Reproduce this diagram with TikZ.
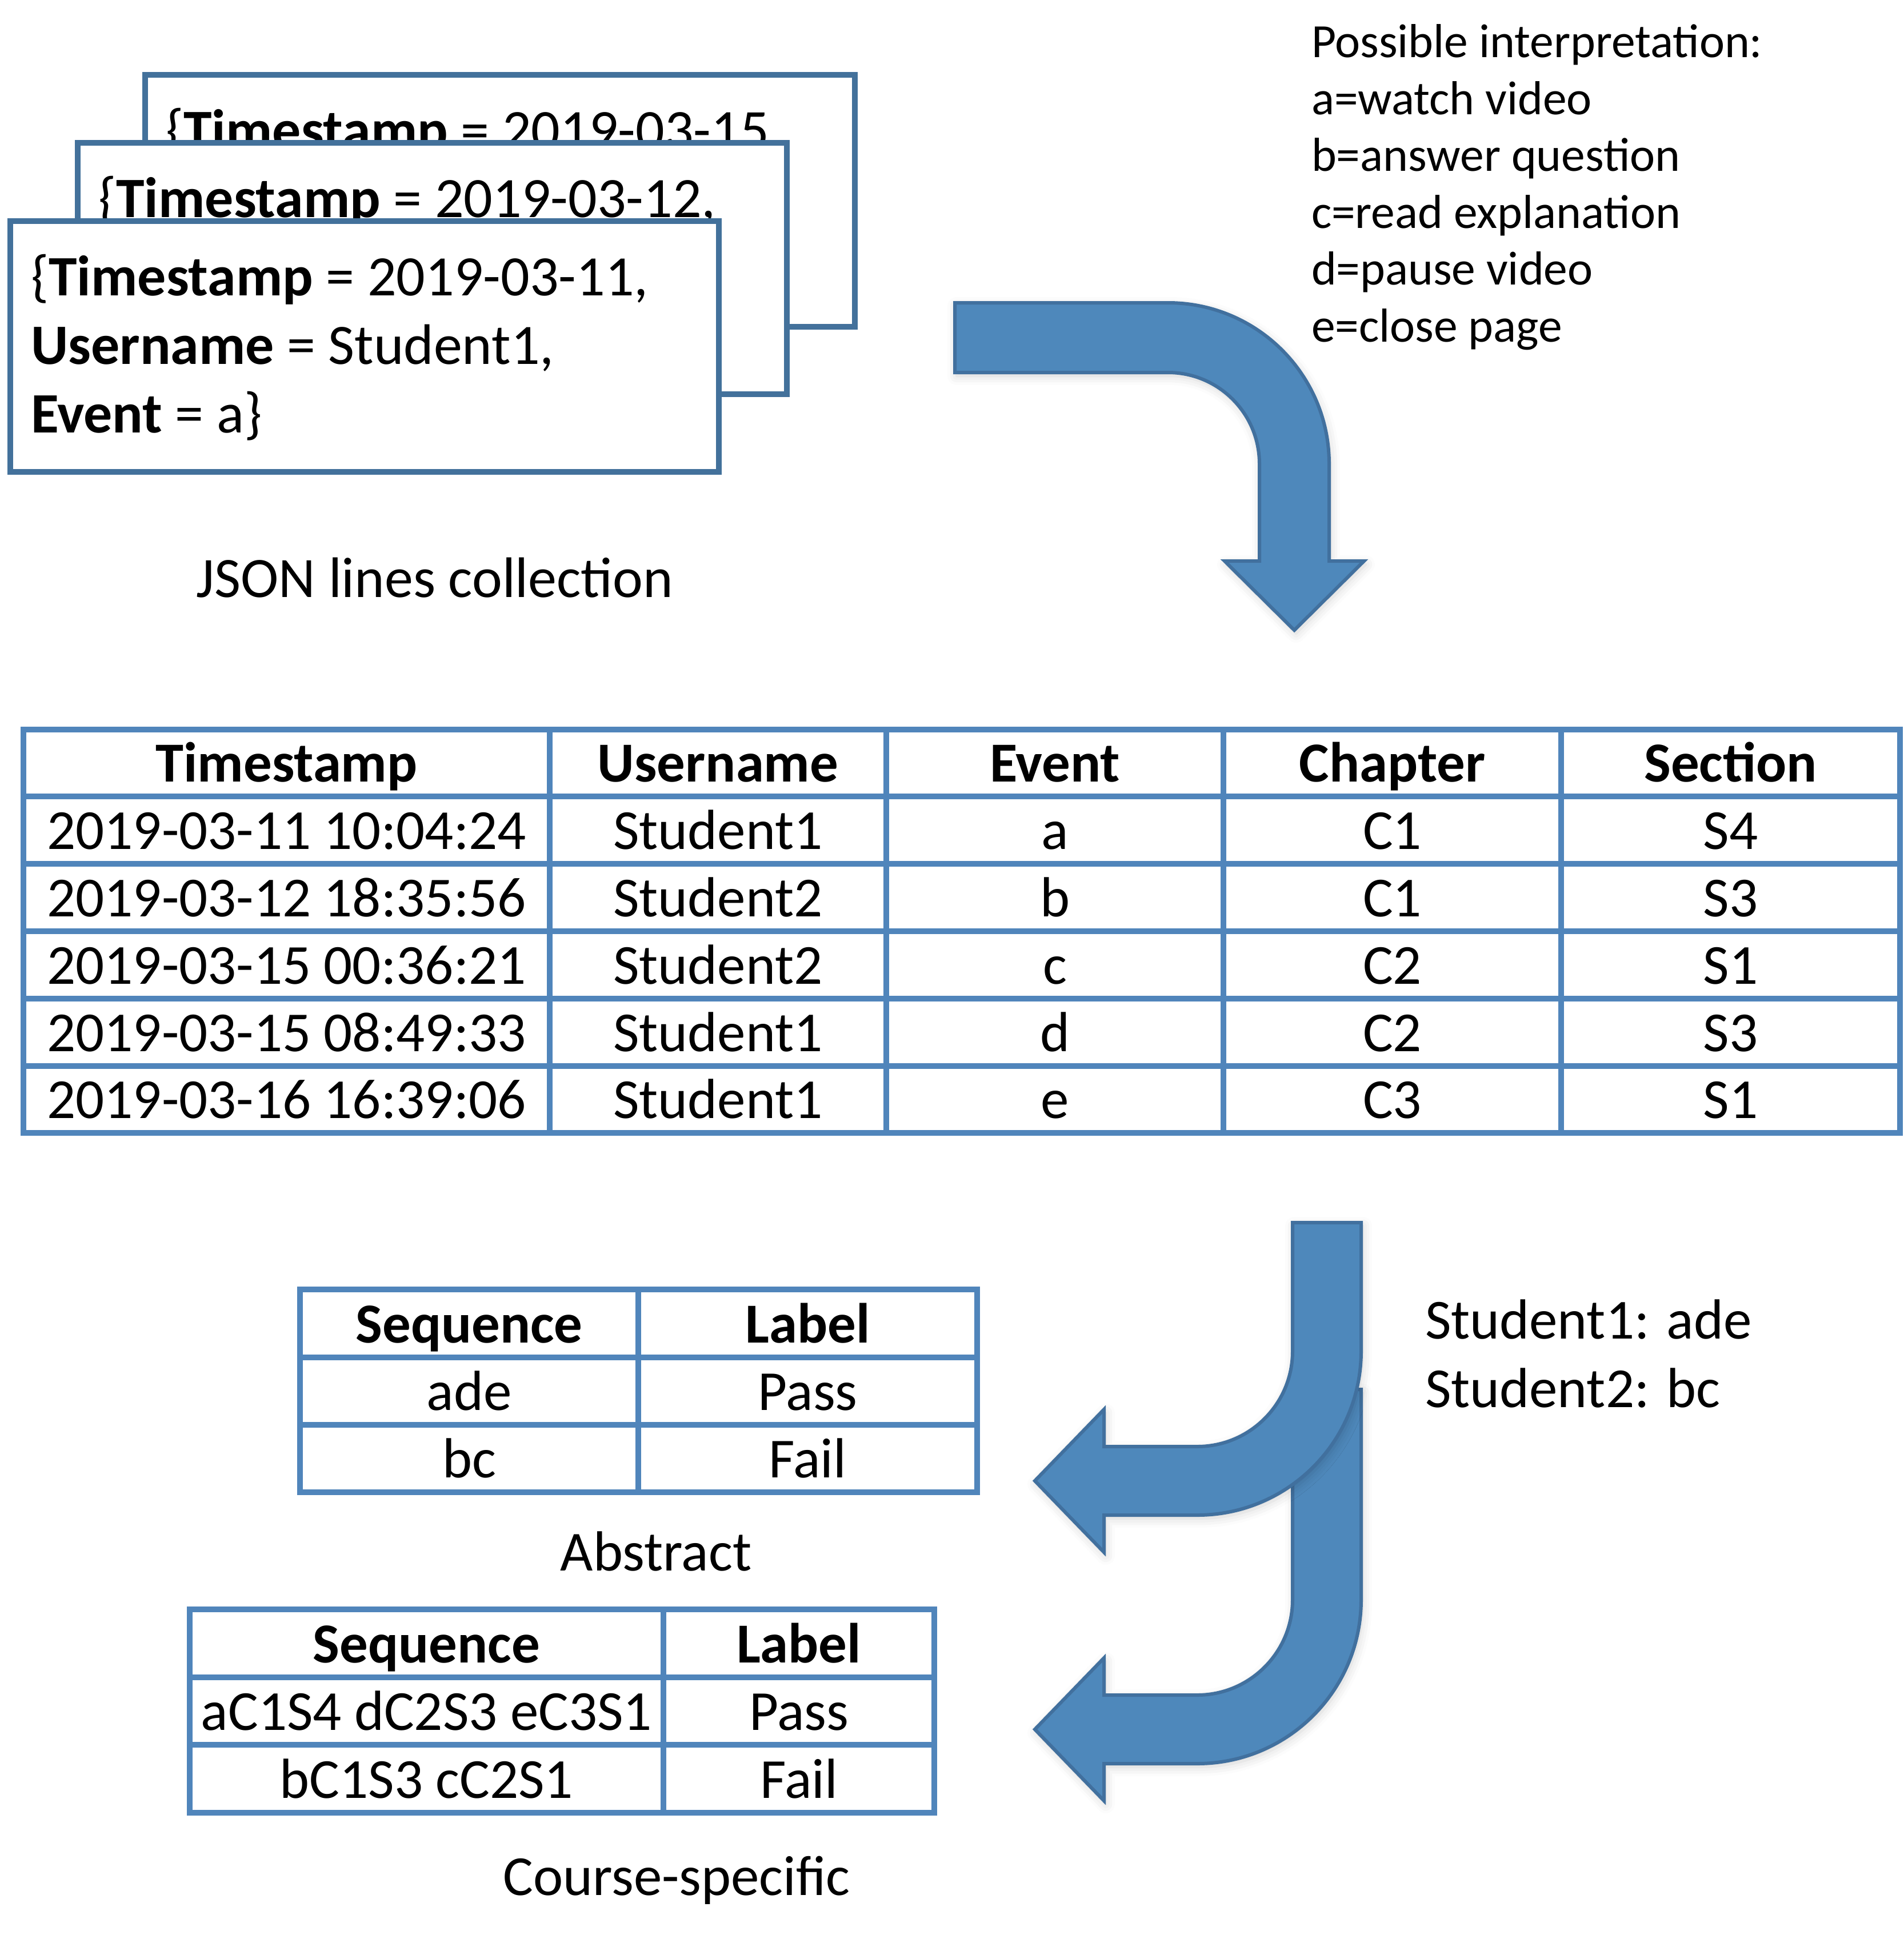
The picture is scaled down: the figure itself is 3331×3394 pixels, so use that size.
\documentclass[tikz,border=0pt]{standalone}
\usepackage{fontspec}
\setmainfont{Carlito}
\usetikzlibrary{shadows.blur}
\definecolor{boxblue}{RGB}{67,113,155}
\definecolor{tblue}{RGB}{80,133,187}
\definecolor{afill}{RGB}{78,136,187}
\definecolor{aline}{RGB}{65,112,158}
\newcommand\fbig{\fontsize{99}{120}\selectfont}
\newcommand\fjson{\fontsize{100}{120}\selectfont}
\newcommand\fsml{\fontsize{83.5}{100}\selectfont}
\begin{document}
\begin{tikzpicture}[x=1pt,y=-1pt,
  txt/.style={inner sep=0pt, outer sep=0pt, font=\fbig, anchor=base},
  txtl/.style={txt, anchor=base west},
  jtxt/.style={txtl, font=\fjson},
  small/.style={inner sep=0pt, outer sep=0pt, font=\fsml, anchor=base west},
  jbox/.style={draw=boxblue, line width=10pt, fill=white},
  tline/.style={draw=tblue, line width=10pt},
  bigarrow/.style={fill=afill, draw=aline, line width=6pt, line join=miter,
    blur shadow={shadow xshift=3pt, shadow yshift=-6pt, shadow blur radius=16pt, shadow opacity=18}}
]
\useasboundingbox (0,0) rectangle (3331,3394);

% ---------- JSON boxes ----------
\draw[jbox] (254,131) rectangle (1496,572);
\node[jtxt] (j3) at (290,261) {\{\textbf{Timestamp} = 2019-03-15,};
\draw[jbox] (136,250) rectangle (1377,690);
\node[jtxt] (j2) at (172,380) {\{\textbf{Timestamp} = 2019-03-12,};
\draw[jbox] (18,387) rectangle (1258,826);
\node[jtxt] (j1a) at (54,517) {\{\textbf{Timestamp} = 2019-03-11,};
\node[jtxt] (j1b) at (54,637) {\textbf{Username} = Student1,};
\node[jtxt] (j1c) at (54,757) {\textbf{Event} = a\}};
\node[txt, font=\fjson] (cap1) at (761,1045) {JSON lines collection};

% ---------- interpretation ----------
\node[small] (p0) at (2295,100) {Possible interpretation:};
\node[small] (p1) at (2295,200) {a=watch video};
\node[small] (p2) at (2295,299) {b=answer question};
\node[small] (p3) at (2295,399) {c=read explanation};
\node[small] (p4) at (2295,498) {d=pause video};
\node[small] (p5) at (2295,598) {e=close page};

% ---------- top bent arrow ----------
\path[bigarrow] (1671,530) -- (2044,530) arc[start angle=-90, end angle=0, radius=282]
  -- (2326,982) -- (2387,982) -- (2265,1103) -- (2143,982) -- (2204,982) -- (2204,812)
  arc[start angle=0, end angle=-90, radius=160] -- (1671,652) -- cycle;

% ---------- big table ----------
\draw[tline] (41,1276.5) rectangle (3325,1983.3);
\foreach \yy in {1394.3,1512.1,1629.9,1747.7,1865.5}
  \draw[tline] (41,\yy) -- (3325,\yy);
\foreach \xx in {962,1551,2141,2732}
  \draw[tline] (\xx,1276.5) -- (\xx,1983.3);

\node[txt] (h1) at (501.5,1368) {\textbf{Timestamp}};
\node[txt] (h2) at (1256.5,1368) {\textbf{Username}};
\node[txt] (h3) at (1846,1368) {\textbf{Event}};
\node[txt] (h4) at (2436.5,1368) {\textbf{Chapter}};
\node[txt] (h5) at (3028.5,1368) {\textbf{Section}};

\node[txt] (r1c1) at (501.5,1486) {2019-03-11 10:04:24};
\node[txt] (r1c2) at (1256.5,1486) {Student1};
\node[txt] (r1c3) at (1846,1486) {a};
\node[txt] (r1c4) at (2436.5,1486) {C1};
\node[txt] (r1c5) at (3028.5,1486) {S4};

\node[txt] (r2c1) at (501.5,1604) {2019-03-12 18:35:56};
\node[txt] (r2c2) at (1256.5,1604) {Student2};
\node[txt] (r2c3) at (1846,1604) {b};
\node[txt] (r2c4) at (2436.5,1604) {C1};
\node[txt] (r2c5) at (3028.5,1604) {S3};

\node[txt] (r3c1) at (501.5,1722) {2019-03-15 00:36:21};
\node[txt] (r3c2) at (1256.5,1722) {Student2};
\node[txt] (r3c3) at (1846,1722) {c};
\node[txt] (r3c4) at (2436.5,1722) {C2};
\node[txt] (r3c5) at (3028.5,1722) {S1};

\node[txt] (r4c1) at (501.5,1840) {2019-03-15 08:49:33};
\node[txt] (r4c2) at (1256.5,1840) {Student1};
\node[txt] (r4c3) at (1846,1840) {d};
\node[txt] (r4c4) at (2436.5,1840) {C2};
\node[txt] (r4c5) at (3028.5,1840) {S3};

\node[txt] (r5c1) at (501.5,1957) {2019-03-16 16:39:06};
\node[txt] (r5c2) at (1256.5,1957) {Student1};
\node[txt] (r5c3) at (1846,1957) {e};
\node[txt] (r5c4) at (2436.5,1957) {C3};
\node[txt] (r5c5) at (3028.5,1957) {S1};

% ---------- bottom arrows ----------
\path[bigarrow] (2262,2432) -- (2382,2432) -- (2382,2800) arc[start angle=0, end angle=90, radius=287]
  -- (1932,3087) -- (1932,3152) -- (1811,3027) -- (1932,2902) -- (1932,2967) -- (2095,2967)
  arc[start angle=90, end angle=0, radius=167] -- cycle;
\path[bigarrow] (2262,2140) -- (2382,2140) -- (2382,2365) arc[start angle=0, end angle=90, radius=287]
  -- (1932,2652) -- (1932,2717) -- (1811,2592) -- (1932,2467) -- (1932,2532) -- (2095,2532)
  arc[start angle=90, end angle=0, radius=167] -- cycle;

\node[txtl] (s1) at (2494,2343) {Student1: ade};
\node[txtl] (s2) at (2494,2463) {Student2: bc};

% ---------- abstract table ----------
\draw[tline] (525,2257) rectangle (1710,2612);
\draw[tline] (525,2376) -- (1710,2376);
\draw[tline] (525,2494) -- (1710,2494);
\draw[tline] (1117,2257) -- (1117,2612);
\node[txt] (a0s) at (821,2350) {\textbf{Sequence}};
\node[txt] (a0l) at (1413.5,2350) {\textbf{Label}};
\node[txt] (a1s) at (821,2468) {ade};
\node[txt] (a1l) at (1413.5,2468) {Pass};
\node[txt] (a2s) at (821,2586) {bc};
\node[txt] (a2l) at (1413.5,2586) {Fail};
\node[txt] (cap2) at (1148,2749) {Abstract};

% ---------- course-specific table ----------
\draw[tline] (332,2817) rectangle (1635,3173);
\draw[tline] (332,2936) -- (1635,2936);
\draw[tline] (332,3054) -- (1635,3054);
\draw[tline] (1161,2817) -- (1161,3173);
\node[txt] (b0s) at (746.5,2910) {\textbf{Sequence}};
\node[txt] (b0l) at (1398,2910) {\textbf{Label}};
\node[txt] (b1s) at (746.5,3028) {aC1S4 dC2S3 eC3S1};
\node[txt] (b1l) at (1398,3028) {Pass};
\node[txt] (b2s) at (746.5,3147) {bC1S3 cC2S1};
\node[txt] (b2l) at (1398,3147) {Fail};
\node[txt] (cap3) at (1184,3317) {Course-specific};
\end{tikzpicture}
\end{document}
